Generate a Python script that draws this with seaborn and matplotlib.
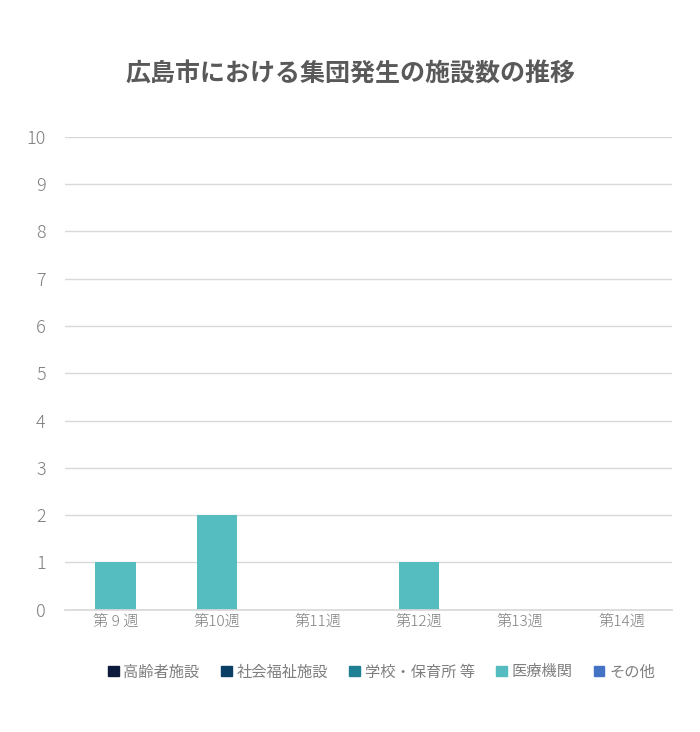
import matplotlib
matplotlib.use("Agg")
import matplotlib.pyplot as plt
import seaborn as sns
import numpy as np
import pandas as pd
from matplotlib.patches import Patch

sns.set_theme(style="white")
plt.rcParams['font.family'] = ['Noto Sans CJK JP', 'DejaVu Sans']

weeks = ["第 9 週", "第10週", "第11週", "第12週", "第13週", "第14週"]
series_names = ["高齢者施設", "社会福祉施設", "学校・保育所 等", "医療機関", "その他"]
elderly = [0, 0, 0, 0, 0, 0]
welfare = [0, 0, 0, 0, 0, 0]
school = [0, 0, 0, 0, 0, 0]
medical = [1, 2, 0, 1, 0, 0]
other = [0, 0, 0, 0, 0, 0]
colors = ["#0c1a3c", "#0b3f66", "#1f7f93", "#55bcc0", "#4472c4"]

fig = plt.figure(figsize=(7, 7.32), dpi=100)
ax = fig.add_axes([0.093, 0.167, 0.867, 0.646])
bottom = np.zeros(len(weeks))
for name, vals, c in zip(series_names, [elderly, welfare, school, medical, other], colors):
    df = pd.DataFrame({"week": weeks, "v": vals})
    sns.barplot(data=df, x="week", y="v", color=c, bottom=bottom, width=0.4, ax=ax,
                saturation=1, linewidth=0)
    bottom += np.array(vals)

ax.set_ylim(0, 10)
ax.set_xlim(-0.5, 5.5)
ax.set_yticks(range(0, 11))
ax.yaxis.grid(True, color="#d9d9d9", linewidth=1)
ax.set_axisbelow(True)
for s in ["top", "right", "left"]:
    ax.spines[s].set_visible(False)
ax.spines["bottom"].set_color("#d9d9d9")
ax.set_xlabel(""); ax.set_ylabel("")
ax.tick_params(axis="both", colors="#7f7f7f", labelsize=11, length=0)
ax.tick_params(axis="y", labelsize=13, pad=14)
for t in ax.get_xticklabels() + ax.get_yticklabels():
    t.set_color("#7f7f7f")
    t.set_fontweight("light")

fig.text(0.5, 0.9, "広島市における集団発生の施設数の推移", ha="center", va="center",
         fontsize=18, fontweight="bold", color="#595959")
handles = [Patch(color=c, label=n) for n, c in zip(series_names, colors)]
fig.legend(handles=handles, loc="center", bbox_to_anchor=(0.545, 0.082), ncol=5, frameon=False,
           fontsize=11, labelcolor="#7f7f7f", handlelength=0.7, handleheight=0.7,
           handletextpad=0.3, columnspacing=1.4)
fig.savefig("out.png")
